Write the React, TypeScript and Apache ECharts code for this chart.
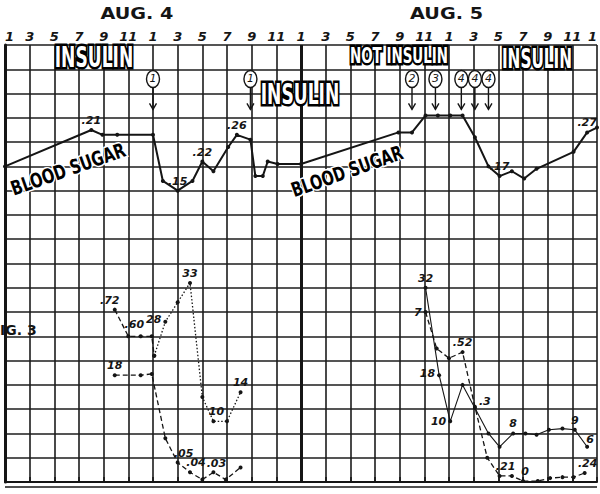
import React, { useEffect, useRef } from "react";
import * as echarts from "echarts";

// ---- axis labels ----
const hourLabels = ["1","3","5","7","9","11","1","3","5","7","9","11","1","3","5","7","9","11","1","3","5","7","9","11","1"];
const dayLabels = ["AUG. 4", "AUG. 5"];
const dayCenterHours = [10.7, 35.8];

// ---- blood sugar (hours since 1 AM Aug 4, level in chart grid units) ----
const sugarHours = [0, 7, 7.9, 9.1, 12, 12.8, 14, 15.2, 16, 16.9, 18.1, 18.8, 19.9, 20.3, 20.9, 21.3, 22.1, 24,
  31.9, 33, 34.1, 35.1, 36.1, 37.1, 38.1, 39.2, 40.1, 41.1, 42.1, 43.1, 46.1, 47.2, 48];
const sugarLevel = [13.0, 14.5, 14.3, 14.3, 14.3, 12.4, 12.0, 12.4, 13.2, 12.8, 13.8, 14.3, 14.1, 12.6, 12.6, 13.2, 13.1, 13.1,
  14.4, 14.4, 15.1, 15.1, 15.1, 15.1, 14.2, 13.0, 12.6, 12.8, 12.5, 12.9, 13.6, 14.4, 14.6];
const sugarText = ["", ".21", "", "", "", "", ".15", "", ".22", "", "", ".26", "", "", "", "", "", "",
  "", "", "", "", "", "", "", "", ".17", "", "", "", "", ".27", ""];

// ---- lower curves, Aug 4 ----
const aHours = [8.9, 10.0, 11.0, 11.9, 12.1];
const aLevel = [7.1, 6.0, 6.0, 6.0, 5.2];
const aText = [".72", ".60", "", "", ""];

const bHours = [12.1, 13.0, 14.0, 15.0, 16.0, 16.9, 18.0, 19.1];
const bLevel = [5.2, 6.6, 7.4, 8.2, 3.5, 2.5, 2.5, 3.7];
const bText = ["", "28", "", "33", "", "10", "", "14"];

const cHours = [8.9, 11.0, 11.9, 13.0, 14.0, 15.0, 16.0, 16.9, 17.9, 19.1];
const cLevel = [4.4, 4.4, 4.45, 1.8, 0.8, 0.4, 0.1, 0.4, 0.1, 0.6];
const cText = ["18", "", "", "", ".05", ".04", "", ".03", "", ""];

// ---- lower curves, Aug 5 ----
const dHours = [34.1, 35.2, 36.1, 37.1, 38.1, 39.2, 40.1, 41.2, 42.2, 43.1, 44.1, 45.2, 46.2, 47.2];
const dLevel = [8.0, 4.4, 2.5, 4.0, 3.05, 2.0, 1.45, 2.0, 2.0, 1.95, 2.15, 2.2, 2.15, 1.45];
const dText = ["32", "18", "10", "", "", "", "", "8", "", "", "", "", "9", "6"];

const eHours = [34.1, 35.0, 36.0, 37.1, 38.1, 39.1, 40.1, 41.1, 42.0, 43.2, 44.2, 45.2, 46.1, 47.0];
const eLevel = [7.0, 5.5, 5.1, 5.35, 3.1, 1.0, 0.25, 0.25, 0.04, 0.04, 0.16, 0.2, 0.2, 0.37];
const eText = ["7", "", "", ".52", ".3", "", ".21", "", "0", "", "", "", "", ".24"];

// ---- insulin doses (hour, circled number) ----
const doseHours = [12, 19.9, 33, 34.9, 37, 38.1, 39.2];
const doseText = ["1", "1", "2", "3", "4", "4", "4"];

// label placement (layout only)
const posA: Record<number, [string, number[]]> = { 0: ["top", [-5, 0]], 1: ["top", [6, -2]] };
const posB: Record<number, [string, number[]]> = { 1: ["left", [0, -2]], 5: ["top", [3, 0]] };
const posC: Record<number, [string, number[]]> = { 4: ["top", [6, 0]], 5: ["top", [6, 0]], 7: ["top", [3, 1]] };
const posD: Record<number, [string, number[]]> = { 1: ["left", [0, -2]], 2: ["left", [0, 0]], 13: ["top", [3, 2]] };
const posE: Record<number, [string, number[]]> = { 0: ["left", [0, 0]], 4: ["right", [0, -5]], 6: ["top", [6, 0]], 8: ["top", [2, 0]], 13: ["top", [3, 0]] };

const INK = "#151515";
const HAND = "'DejaVu Sans', sans-serif";
const CAPS = "'DejaVu Sans Condensed', 'DejaVu Sans', sans-serif";

function mkSeries(hours: number[], vals: number[], texts: string[], pos: Record<number, [string, number[]]>, lineStyle: any, symbolSize = 4) {
  return {
    type: "line",
    silent: true,
    clip: false,
    symbol: "circle",
    symbolSize,
    itemStyle: { color: INK },
    lineStyle,
    label: { color: INK, fontSize: 11, fontWeight: "bold", fontStyle: "italic", fontFamily: HAND, distance: 2 },
    data: hours.map((h, i) => ({
      value: [h, vals[i]],
      label: texts[i]
        ? { show: true, formatter: texts[i], position: pos[i] ? pos[i][0] : "top", offset: pos[i] ? pos[i][1] : [0, 0] }
        : { show: false },
    })),
  };
}

function outlined(text: string, x: number, y: number, size: number, sx: number, fill: string, edge: string, edgeW: number, rotation = 0) {
  const base = {
    text, fontSize: size, fontWeight: "bold", fontFamily: CAPS,
    textAlign: "center", textVerticalAlign: "middle", align: "center", verticalAlign: "middle",
  };
  return [
    { type: "text", x, y, scaleX: sx, rotation, z: 200, silent: true, style: { ...base, fill: edge, stroke: edge, lineWidth: edgeW, lineJoin: "round" } },
    { type: "text", x, y, scaleX: sx, rotation, z: 201, silent: true, style: { ...base, fill } },
  ];
}

function buildGraphics(chart: any) {
  const px = (h: number, v: number) => chart.convertToPixel({ gridIndex: 0 }, [h, v]) as number[];
  const els: any[] = [];
  const [x0, yBottom] = px(0, 0);
  const [x1] = px(48, 18);

  // bottom double rule
  els.push({ type: "line", shape: { x1: x0, y1: yBottom + 5, x2: x1, y2: yBottom + 5 }, style: { stroke: INK, lineWidth: 1.5 }, silent: true });

  // day headers
  dayLabels.forEach((t, i) => {
    const [x] = px(dayCenterHours[i], 0);
    els.push({ type: "text", x, y: 14, scaleX: 1.2, silent: true, style: { text: t, fill: INK, fontSize: 16, fontWeight: "bold", fontFamily: HAND, textAlign: "center", textVerticalAlign: "middle", align: "center", verticalAlign: "middle" } });
  });

  // insulin dose markers
  doseHours.forEach((h, i) => {
    const [x, cy] = px(h, 16.6);
    const [, tip] = px(h, 15.35);
    els.push({ type: "ellipse", shape: { cx: x, cy, rx: 6.5, ry: 8.5 }, style: { fill: "#fff", stroke: INK, lineWidth: 1.4 }, silent: true });
    els.push({ type: "text", x, y: cy, silent: true, style: { text: doseText[i], fill: INK, fontSize: 11, fontStyle: "italic", fontFamily: HAND, textAlign: "center", textVerticalAlign: "middle", align: "center", verticalAlign: "middle" } });
    els.push({ type: "line", shape: { x1: x, y1: cy + 8.5, x2: x, y2: tip }, style: { stroke: INK, lineWidth: 1.4 }, silent: true });
    els.push({ type: "polyline", shape: { points: [[x - 3.5, tip - 6], [x, tip], [x + 3.5, tip - 6]] }, style: { stroke: INK, fill: "none", lineWidth: 1.4 }, silent: true });
  });

  // caption
  els.push({ type: "text", x: 0, y: 330, silent: true, style: { text: "IG. 3", fill: INK, fontSize: 14, fontWeight: "bold", fontFamily: HAND, textAlign: "left", textVerticalAlign: "middle", align: "left", verticalAlign: "middle" } });

  // overlay captions (white with black outline)
  els.push(...outlined("INSULIN", 94, 58, 28, 0.68, "#fff", "#000", 5));
  els.push(...outlined("INSULIN", 300, 95, 28, 0.68, "#fff", "#000", 5));
  els.push(...outlined("NOT INSULIN", 399, 55, 22, 0.68, "#fff", "#000", 5));
  els.push(...outlined("INSULIN", 537, 58, 27, 0.63, "#fff", "#000", 5));

  // BLOOD SUGAR tags (black with white edge)
  els.push(...outlined("BLOOD SUGAR", 68, 169, 20, 0.82, "#000", "#fff", 3, 0.34));
  els.push(...outlined("BLOOD SUGAR", 347, 171, 20, 0.8, "#000", "#fff", 3, 0.34));
  return els;
}

export default function App() {
  const ref = useRef<HTMLDivElement>(null);
  useEffect(() => {
    const chart = echarts.init(ref.current!, null, { renderer: "svg" });
    const gridLine = { show: true, lineStyle: { color: "#1c1c1c", width: 1.6 } };
    chart.setOption({
      animation: false,
      backgroundColor: "#fff",
      grid: { left: 5, right: 3, top: 45, bottom: 12, containLabel: false, outerBoundsMode: "none" },
      xAxis: {
        type: "value", position: "top", min: 0, max: 48, interval: 2,
        axisLine: { show: true, lineStyle: { color: INK, width: 2 } },
        axisTick: { show: true, length: 5, lineStyle: { color: INK, width: 1.5 } },
        axisLabel: {
          show: true, margin: 2, showMinLabel: true, showMaxLabel: true, alignMinLabel: "left", alignMaxLabel: "right",
          color: INK, fontSize: 13, fontStyle: "italic", fontWeight: "bold", fontFamily: HAND,
          formatter: (v: number) => hourLabels[Math.round(v / 2)] ?? "",
        },
        splitLine: gridLine,
      },
      yAxis: {
        type: "value", min: 0, max: 18, interval: 1,
        axisLine: { show: true, lineStyle: { color: INK, width: 3 } },
        axisTick: { show: false }, axisLabel: { show: false },
        splitLine: gridLine,
      },
      series: [
        {
          ...mkSeries(sugarHours, sugarLevel, sugarText, {}, { color: INK, width: 2 }),
          markLine: { silent: true, symbol: "none", label: { show: false }, lineStyle: { color: INK, width: 3, type: "solid" }, data: [{ xAxis: 24 }] },
        },
        mkSeries(aHours, aLevel, aText, posA, { color: INK, width: 1.3, type: [5, 3] }),
        mkSeries(bHours, bLevel, bText, posB, { color: INK, width: 1.3, type: [1.5, 2] }),
        mkSeries(cHours, cLevel, cText, posC, { color: INK, width: 1.3, type: [5, 3] }),
        mkSeries(dHours, dLevel, dText, posD, { color: INK, width: 1.1 }),
        mkSeries(eHours, eLevel, eText, posE, { color: INK, width: 1.3, type: [5, 3] }),
      ],
    });
    chart.setOption({ graphic: buildGraphics(chart) });
    return () => chart.dispose();
  }, []);
  return <div ref={ref} style={{ position: "fixed", left: 0, top: 0, width: 600, height: 494, background: "#fff" }} />;
}
